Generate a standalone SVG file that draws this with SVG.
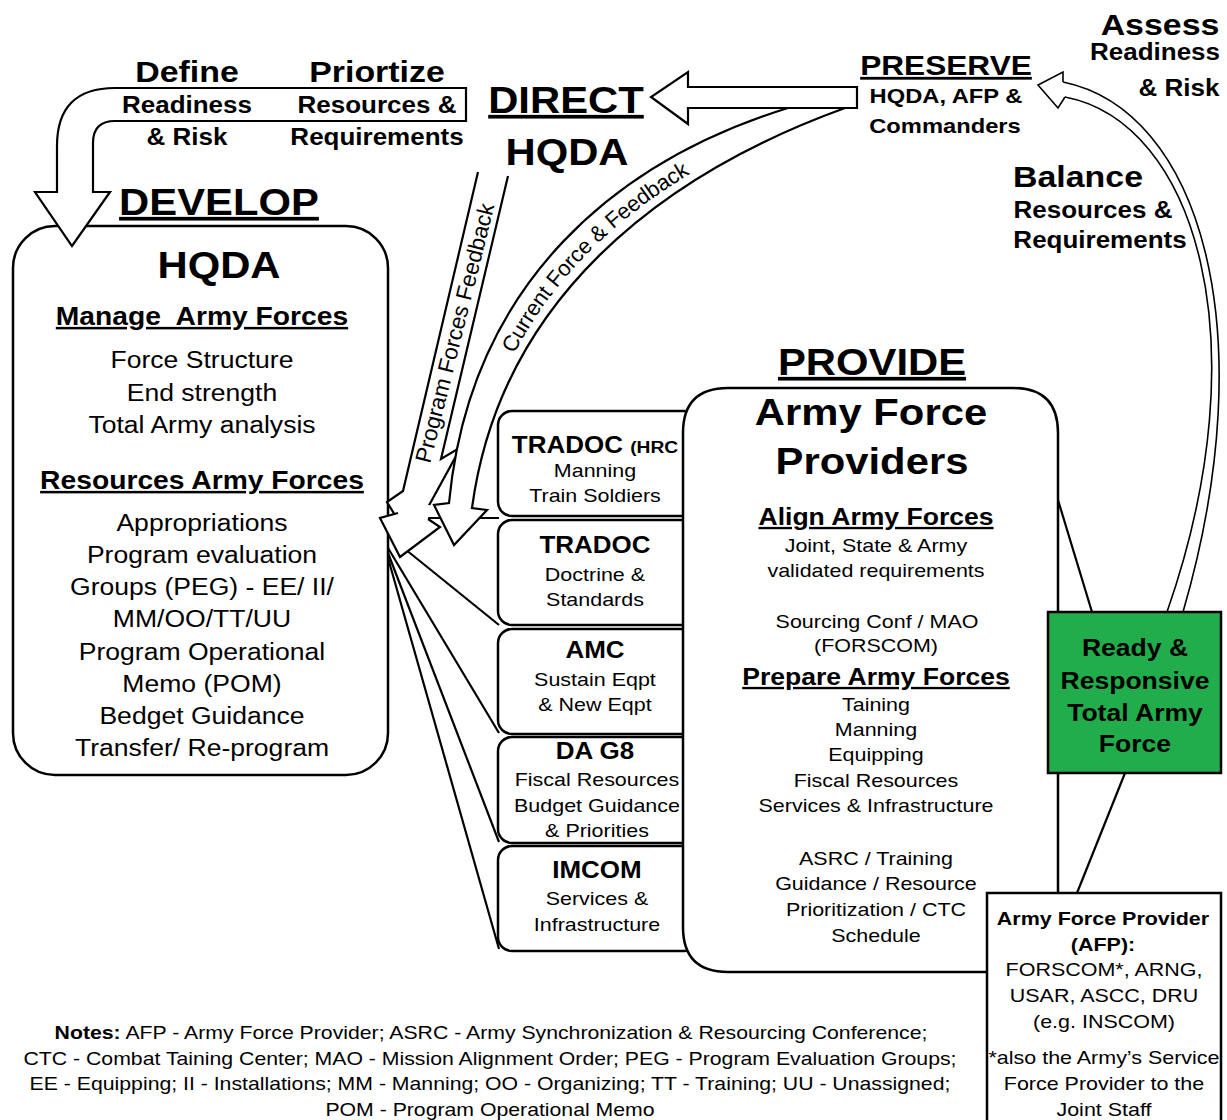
<svg xmlns="http://www.w3.org/2000/svg" width="1227" height="1120" viewBox="0 0 1227 1120">
<style>
text{font-family:"Liberation Sans",Arial,Helvetica,sans-serif;fill:#000;text-anchor:middle;transform-box:fill-box;transform-origin:center;transform:scaleX(1.13)}
.ns{transform:none}
.b{font-weight:bold}
.u{text-decoration:underline}
.t1{font-size:37px;font-weight:bold}
.t2{font-size:30px;font-weight:bold}
.t3{font-size:23px;font-weight:bold}
.h{font-size:25px;font-weight:bold;text-decoration:underline}
.hp{font-size:23.5px;font-weight:bold;text-decoration:underline}
.r23{font-size:23.5px}
.r19{font-size:19px}
.box{fill:#fff;stroke:#000;stroke-width:2.5}
.arr{fill:#fff;stroke:#000;stroke-width:2.2;stroke-linejoin:miter}
.fillw{fill:#fff;stroke:none}
.ln{fill:none;stroke:#000;stroke-width:2.2}
.thin{fill:none;stroke:#000;stroke-width:1.6}
.thinw{fill:#fff;stroke:#000;stroke-width:1.6}
</style>

<g id="hqda">
<rect class="box" x="13" y="226" width="375" height="549" rx="42"/>
<text class="t1" x="219" y="278">HQDA</text>
<text class="h" x="202" y="325">Manage&#160; Army Forces</text>
<text class="r23" x="202" y="368">Force Structure</text>
<text class="r23" x="202" y="401">End strength</text>
<text class="r23" x="202" y="433">Total Army analysis</text>
<text class="h" x="202" y="489">Resources Army Forces</text>
<text class="r23" x="202" y="531">Appropriations</text>
<text class="r23" x="202" y="563">Program evaluation</text>
<text class="r23" x="202" y="595">Groups (PEG) - EE/ II/</text>
<text class="r23" x="202" y="627">MM/OO/TT/UU</text>
<text class="r23" x="202" y="660">Program Operational</text>
<text class="r23" x="202" y="692">Memo (POM)</text>
<text class="r23" x="202" y="724">Bedget Guidance</text>
<text class="r23" x="202" y="756">Transfer/ Re-program</text>
</g>

<g id="connectors">
<line class="ln" x1="388" y1="518" x2="499" y2="518"/>
<line class="ln" x1="400" y1="545" x2="499" y2="625"/>
<line class="ln" x1="388" y1="548" x2="499" y2="733"/>
<line class="ln" x1="388" y1="553" x2="499" y2="842"/>
<line class="ln" x1="388" y1="558" x2="499" y2="949"/>
<path class="arr" d="M466,88 H115 Q57,88 57,146 V192 H35 L72,246 L110,192 H93 V143 Q93,121 115,121 H466 Z"/>
<path class="arr" d="M857,87 H688 V72 L651,97 L688,124 V108 H857 Z"/>
<path class="fillw" d="M478,172 L508,176 L441,459 L461,447 L410,540 L387,502 L403,491 Z"/>
<path class="ln" d="M478,172 L403,491 L387,502 L410,540 L461,447 L441,459 L508,176"/>
<path class="fillw" d="M400,505 L430,505 L428,519 L440,527 L400,557 L380,518 L398,513 Z"/>
<path class="ln" d="M398,513 L380,518 L400,557 L440,527 L428,519"/>
<path class="arr" d="M788,108 C620,160 470,280 449,503 L434,505 L454,545 L487,510 L472,508 C500,300 660,175 845,108 Z"/>
<path class="thin" d="M1063,82 C1200,110 1265,330 1183,612 M1065,97 C1195,122 1262,340 1167,612"/>
<path class="thinw" d="M1063,82 V72 L1038,85 L1058,108 L1065,97"/>
<line class="ln" x1="1058" y1="500" x2="1092" y2="612"/>
<line class="ln" x1="1125" y1="773" x2="1077" y2="893"/>
<g transform="translate(455,333) rotate(-76)"><text class="ns" x="0" y="0" font-size="22.5" dominant-baseline="central">Program Forces Feedback</text></g>
<path id="cfPath" d="M460.5,505.5 C485,290 640,167.5 816.5,108" fill="none" stroke="none"/>
<text class="ns" font-size="22" dominant-baseline="central" style="text-anchor:start"><textPath href="#cfPath" startOffset="163">Current Force &amp; Feedback</textPath></text>
</g>

<g id="tradoc-hrc">
<rect class="box" x="498" y="411" width="200" height="105" rx="14"/>
<text class="b" x="595" y="453" font-size="23">TRADOC <tspan font-size="17">(HRC</tspan></text>
<text class="r19" x="595" y="477">Manning</text>
<text class="r19" x="595" y="502">Train Soldiers</text>
</g>
<g id="tradoc">
<rect class="box" x="498" y="520" width="200" height="105" rx="14"/>
<text class="t3" x="595" y="553">TRADOC</text>
<text class="r19" x="595" y="581">Doctrine &amp;</text>
<text class="r19" x="595" y="606">Standards</text>
</g>
<g id="amc">
<rect class="box" x="498" y="629" width="200" height="105" rx="14"/>
<text class="t3" x="595" y="658">AMC</text>
<text class="r19" x="595" y="686">Sustain Eqpt</text>
<text class="r19" x="595" y="711">&amp; New Eqpt</text>
</g>
<g id="dag8">
<rect class="box" x="498" y="737" width="200" height="106" rx="14"/>
<text class="t3" x="595" y="759">DA G8</text>
<text class="r19" x="597" y="786">Fiscal Resources</text>
<text class="r19" x="597" y="812">Budget Guidance</text>
<text class="r19" x="597" y="837">&amp; Priorities</text>
</g>
<g id="imcom">
<rect class="box" x="498" y="846" width="200" height="105" rx="14"/>
<text class="t3" x="597" y="878">IMCOM</text>
<text class="r19" x="597" y="905">Services &amp;</text>
<text class="r19" x="597" y="931">Infrastructure</text>
</g>

<g id="provide">
<path class="box" d="M728,388 H1013 Q1058,388 1058,433 V972 H728 Q683,972 683,927 V433 Q683,388 728,388 Z"/>
<text class="t1 u" x="872" y="375">PROVIDE</text>
<text class="t1" x="871" y="425">Army Force</text>
<text class="t1" x="872" y="474">Providers</text>
<text class="hp" x="876" y="525">Align Army Forces</text>
<text class="r19" x="876" y="552">Joint, State &amp; Army</text>
<text class="r19" x="876" y="577">validated requirements</text>
<text class="r19" x="877" y="628">Sourcing Conf / MAO</text>
<text class="r19" x="876" y="652">(FORSCOM)</text>
<text class="hp" x="876" y="685">Prepare Army Forces</text>
<text class="r19" x="876" y="711">Taining</text>
<text class="r19" x="876" y="736">Manning</text>
<text class="r19" x="876" y="761">Equipping</text>
<text class="r19" x="876" y="787">Fiscal Resources</text>
<text class="r19" x="876" y="812">Services &amp; Infrastructure</text>
<text class="r19" x="876" y="865">ASRC / Training</text>
<text class="r19" x="876" y="890">Guidance / Resource</text>
<text class="r19" x="876" y="916">Prioritization / CTC</text>
<text class="r19" x="876" y="942">Schedule</text>
</g>

<g id="ready">
<rect x="1048" y="612" width="173" height="161" fill="#21ad4b" stroke="#000" stroke-width="2.5"/>
<text class="b" font-size="23.5" x="1135" y="656">Ready &amp;</text>
<text class="b" font-size="23.5" x="1135" y="689">Responsive</text>
<text class="b" font-size="23.5" x="1135" y="721">Total Army</text>
<text class="b" font-size="23.5" x="1135" y="752">Force</text>
</g>

<g id="afp">
<rect class="box" x="987" y="893" width="234" height="240"/>
<text class="b r19" x="1103" y="925">Army Force Provider</text>
<text class="b r19" x="1103" y="951">(AFP):</text>
<text class="r19" x="1104" y="976">FORSCOM*, ARNG,</text>
<text class="r19" x="1104" y="1002">USAR, ASCC, DRU</text>
<text class="r19" x="1104" y="1028">(e.g. INSCOM)</text>
<text class="r19" x="1104" y="1064">*also the Army’s Service</text>
<text class="r19" x="1104" y="1090">Force Provider to the</text>
<text class="r19" x="1104" y="1116">Joint Staff</text>
</g>

<g id="develop-label">
<text class="t1 u" x="219" y="215">DEVELOP</text>
</g>
<g id="direct-label">
<text class="t1 u" x="566" y="113">DIRECT</text>
<text class="t1" x="567" y="165">HQDA</text>
</g>
<g id="preserve-label">
<text class="b u" font-size="28" x="946" y="75">PRESERVE</text>
<text class="b" font-size="21" x="946" y="103">HQDA, AFP &amp;</text>
<text class="b" font-size="21" x="945" y="133">Commanders</text>
</g>
<g id="define-label">
<text class="t2" x="187" y="82">Define</text>
<text class="t3" x="187" y="113">Readiness</text>
<text class="t3" x="187" y="145">&amp; Risk</text>
</g>
<g id="prioritize-label">
<text class="t2" x="377" y="82">Priortize</text>
<text class="t3" x="377" y="113">Resources &amp;</text>
<text class="t3" x="377" y="145">Requirements</text>
</g>
<g id="assess-label">
<text class="t2" x="1160" y="35">Assess</text>
<text class="t3" x="1155" y="60">Readiness</text>
<text class="t3" x="1179" y="96">&amp; Risk</text>
</g>
<g id="balance-label">
<text class="t2" x="1078" y="187">Balance</text>
<text class="t3" x="1093" y="218">Resources &amp;</text>
<text class="t3" x="1100" y="248">Requirements</text>
</g>

<g id="notes">
<text font-size="18.8" x="491" y="1039"><tspan font-weight="bold">Notes:</tspan> AFP - Army Force Provider; ASRC - Army Synchronization &amp; Resourcing Conference;</text>
<text font-size="18.8" x="490" y="1065">CTC - Combat Taining Center; MAO - Mission Alignment Order; PEG - Program Evaluation Groups;</text>
<text font-size="18.8" x="490" y="1090">EE - Equipping; II - Installations; MM - Manning; OO - Organizing; TT - Training; UU - Unassigned;</text>
<text font-size="18.8" x="490" y="1116">POM - Program Operational Memo</text>
</g>
</svg>
